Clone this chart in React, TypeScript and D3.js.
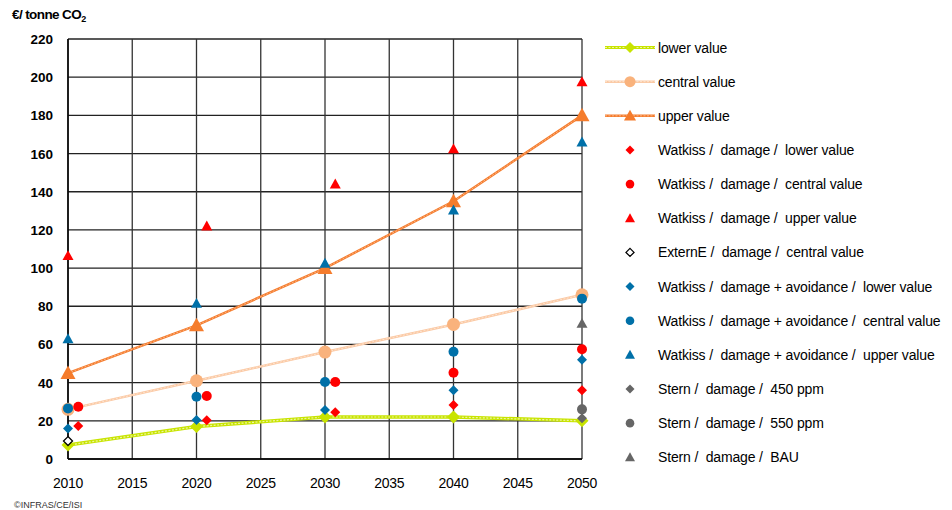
import React from "react";
import * as d3 from "d3";

const years = [2010, 2020, 2030, 2040, 2050];
const lowerValue = [7.3, 17, 22, 22, 20];
const centralValue = [26, 41, 56, 70.5, 86];
const upperValue = [45, 70, 100, 135, 180];

const watkissLowerX = [2010.8, 2020.8, 2030.8, 2040, 2050];
const watkissLower = [17.3, 20.3, 24.5, 28.3, 36];
const watkissCentralX = [2010.8, 2020.8, 2030.8, 2040, 2050];
const watkissCentral = [27.4, 33, 40.3, 45.2, 57.5];
const watkissUpperX = [2010, 2020.8, 2030.8, 2040, 2050];
const watkissUpper = [106.5, 122, 144, 162.4, 197.5];

const externeX = [2010];
const externeCentral = [9.4];

const avoidLower = [16, 20.4, 25.7, 36, 52];
const avoidCentral = [26.5, 32.6, 40.3, 56.2, 84];
const avoidUpper = [63, 81.5, 102.5, 130.4, 166];

const sternX = [2050];
const stern450 = [21.3];
const stern550 = [26];
const sternBAU = [71];

const yTicks = [0, 20, 40, 60, 80, 100, 120, 140, 160, 180, 200, 220];
const xTicks = [2010, 2015, 2020, 2025, 2030, 2035, 2040, 2045, 2050];

const legendLabels = [
  "lower value",
  "central value",
  "upper value",
  "Watkiss /  damage /  lower value",
  "Watkiss /  damage /  central value",
  "Watkiss /  damage /  upper value",
  "ExternE /  damage /  central value",
  "Watkiss /  damage + avoidance /  lower value",
  "Watkiss /  damage + avoidance /  central value",
  "Watkiss /  damage + avoidance /  upper value",
  "Stern /  damage /  450 ppm",
  "Stern /  damage /  550 ppm",
  "Stern /  damage /  BAU",
];

const x = d3.scaleLinear().domain([2010, 2050]).range([68, 582]);
const y = d3.scaleLinear().domain([0, 220]).range([459, 39]);

const RED = "#ff0000";
const BLUE = "#0070a8";
const GRAY = "#666666";
const LIME = "#c8e400";
const PEACH = "#f9b27c";
const ORANGE = "#f57c2c";

type Shape = "diamond" | "circle" | "triangle";

function Marker({ cx, cy, shape, size, fill, stroke }: { cx: number; cy: number; shape: Shape; size: number; fill: string; stroke?: string }) {
  if (shape === "circle") {
    return <circle cx={cx} cy={cy} r={size} fill={fill} stroke={stroke || "none"} />;
  }
  if (shape === "diamond") {
    const s = size;
    return (
      <path
        d={`M${cx},${cy - s}L${cx + s},${cy}L${cx},${cy + s}L${cx - s},${cy}Z`}
        fill={fill}
        stroke={stroke || "none"}
        strokeWidth={stroke ? 1.3 : 0}
      />
    );
  }
  const s = size;
  return <path d={`M${cx},${cy - s}L${cx + s},${cy + s * 0.8}L${cx - s},${cy + s * 0.8}Z`} fill={fill} />;
}

const lineGen = d3
  .line<[number, number]>()
  .x((d) => x(d[0]))
  .y((d) => y(d[1]));

function TexturedLine({ xs, vs, color, inner, width }: { xs: number[]; vs: number[]; color: string; inner: string; width: number }) {
  const pts = xs.map((xx, i) => [xx, vs[i]] as [number, number]);
  const d = lineGen(pts) || "";
  return (
    <g>
      <path d={d} fill="none" stroke={color} strokeWidth={width} />
      <path d={d} fill="none" stroke={inner} strokeWidth={width * 0.35} strokeDasharray="2,1.5" />
    </g>
  );
}

function Scatter({ xs, vs, shape, size, fill, stroke }: { xs: number[]; vs: number[]; shape: Shape; size: number; fill: string; stroke?: string }) {
  return (
    <g>
      {xs.map((xx, i) => (
        <Marker key={i} cx={x(xx)} cy={y(vs[i])} shape={shape} size={size} fill={fill} stroke={stroke} />
      ))}
    </g>
  );
}

export default function App() {
  const font = "'Liberation Sans', Arial, sans-serif";
  const legendY0 = 47.5;
  const legendStep = 34.15;
  const legendMarkers: { shape: Shape; size: number; fill: string; stroke?: string; line?: [string, string, number] }[] = [
    { shape: "diamond", size: 5.5, fill: LIME, line: [LIME, "#eef5a0", 3] },
    { shape: "circle", size: 5.5, fill: PEACH, line: ["#fbc9a4", "#fde6d4", 2.5] },
    { shape: "triangle", size: 6, fill: ORANGE, line: [ORANGE, "#f9b890", 2.5] },
    { shape: "diamond", size: 4.5, fill: RED },
    { shape: "circle", size: 4.3, fill: RED },
    { shape: "triangle", size: 5, fill: RED },
    { shape: "diamond", size: 4, fill: "#ffffff", stroke: "#000000" },
    { shape: "diamond", size: 4.5, fill: BLUE },
    { shape: "circle", size: 4.3, fill: BLUE },
    { shape: "triangle", size: 5, fill: BLUE },
    { shape: "diamond", size: 4.5, fill: GRAY },
    { shape: "circle", size: 4.3, fill: GRAY },
    { shape: "triangle", size: 5, fill: GRAY },
  ];

  return (
    <svg width={952} height={510} style={{ display: "block", position: "absolute", left: 0, top: 0, fontFamily: font }}>
      <rect x={0} y={0} width={952} height={510} fill="#ffffff" />
      {/* grid */}
      {yTicks.map((t) => (
        <line key={"gy" + t} x1={x(2010)} x2={x(2050)} y1={y(t)} y2={y(t)} stroke="#222" strokeWidth={1.3} />
      ))}
      {xTicks.map((t) => (
        <line key={"gx" + t} x1={x(t)} x2={x(t)} y1={y(0)} y2={y(220)} stroke="#333" strokeWidth={1.3} />
      ))}
      <line x1={x(2010)} x2={x(2010)} y1={y(0)} y2={y(220)} stroke="#000" strokeWidth={1.5} />
      <line x1={x(2010)} x2={x(2050)} y1={y(0)} y2={y(0)} stroke="#000" strokeWidth={1.5} />

      {/* y tick labels */}
      {yTicks.map((t) => (
        <text key={"ty" + t} x={53} y={y(t) + 5} textAnchor="end" fontSize={13.5} fontWeight="bold" fill="#000">
          {t}
        </text>
      ))}
      {/* x tick labels */}
      {xTicks.map((t) => (
        <text key={"tx" + t} x={x(t)} y={488} textAnchor="middle" fontSize={14} fill="#000" letterSpacing={-0.3}>
          {t}
        </text>
      ))}

      {/* title */}
      <text x={12} y={19} fontSize={13.5} fontWeight="bold" fill="#000" letterSpacing={-0.6}>
        €/ tonne CO<tspan fontSize={9} dy={3}>2</tspan>
      </text>
      <text x={14} y={508} fontSize={9} fill="#333">
        ©INFRAS/CE/ISI
      </text>

      {/* lines */}
      <TexturedLine xs={years} vs={centralValue} color="#fbc9a4" inner="#fde6d4" width={2.5} />
      <TexturedLine xs={years} vs={upperValue} color={ORANGE} inner="#f9b890" width={2.5} />
      <TexturedLine xs={years} vs={lowerValue} color={LIME} inner="#eef5a0" width={3.5} />

      {/* line markers */}
      <Scatter xs={years} vs={centralValue} shape="circle" size={6.5} fill={PEACH} />
      <Scatter xs={years} vs={upperValue} shape="triangle" size={7.5} fill={ORANGE} />
      <Scatter xs={years} vs={lowerValue} shape="diamond" size={6.5} fill={LIME} />

      {/* scatter series */}
      <Scatter xs={watkissLowerX} vs={watkissLower} shape="diamond" size={5} fill={RED} />
      <Scatter xs={watkissCentralX} vs={watkissCentral} shape="circle" size={5} fill={RED} />
      <Scatter xs={watkissUpperX} vs={watkissUpper} shape="triangle" size={5.5} fill={RED} />
      <Scatter xs={years} vs={avoidLower} shape="diamond" size={5} fill={BLUE} />
      <Scatter xs={years} vs={avoidCentral} shape="circle" size={5} fill={BLUE} />
      <Scatter xs={years} vs={avoidUpper} shape="triangle" size={5.5} fill={BLUE} />
      <Scatter xs={externeX} vs={externeCentral} shape="diamond" size={4.5} fill="#ffffff" stroke="#000000" />
      <Scatter xs={sternX} vs={stern450} shape="diamond" size={5} fill={GRAY} />
      <Scatter xs={sternX} vs={stern550} shape="circle" size={5} fill={GRAY} />
      <Scatter xs={sternX} vs={sternBAU} shape="triangle" size={5.5} fill={GRAY} />

      {/* legend */}
      {legendLabels.map((lab, i) => {
        const ly = legendY0 + i * legendStep;
        const m = legendMarkers[i];
        return (
          <g key={"lg" + i}>
            {m.line && (
              <g>
                <line x1={605} x2={655} y1={ly} y2={ly} stroke={m.line[0]} strokeWidth={m.line[2]} />
                <line x1={605} x2={655} y1={ly} y2={ly} stroke={m.line[1]} strokeWidth={m.line[2] * 0.35} strokeDasharray="2,1.5" />
              </g>
            )}
            <Marker cx={630} cy={ly} shape={m.shape} size={m.size} fill={m.fill} stroke={m.stroke} />
            <text x={658} y={ly + 5} fontSize={14} fill="#000" letterSpacing={-0.15} style={{ whiteSpace: "pre" }}>
              {lab}
            </text>
          </g>
        );
      })}
    </svg>
  );
}
